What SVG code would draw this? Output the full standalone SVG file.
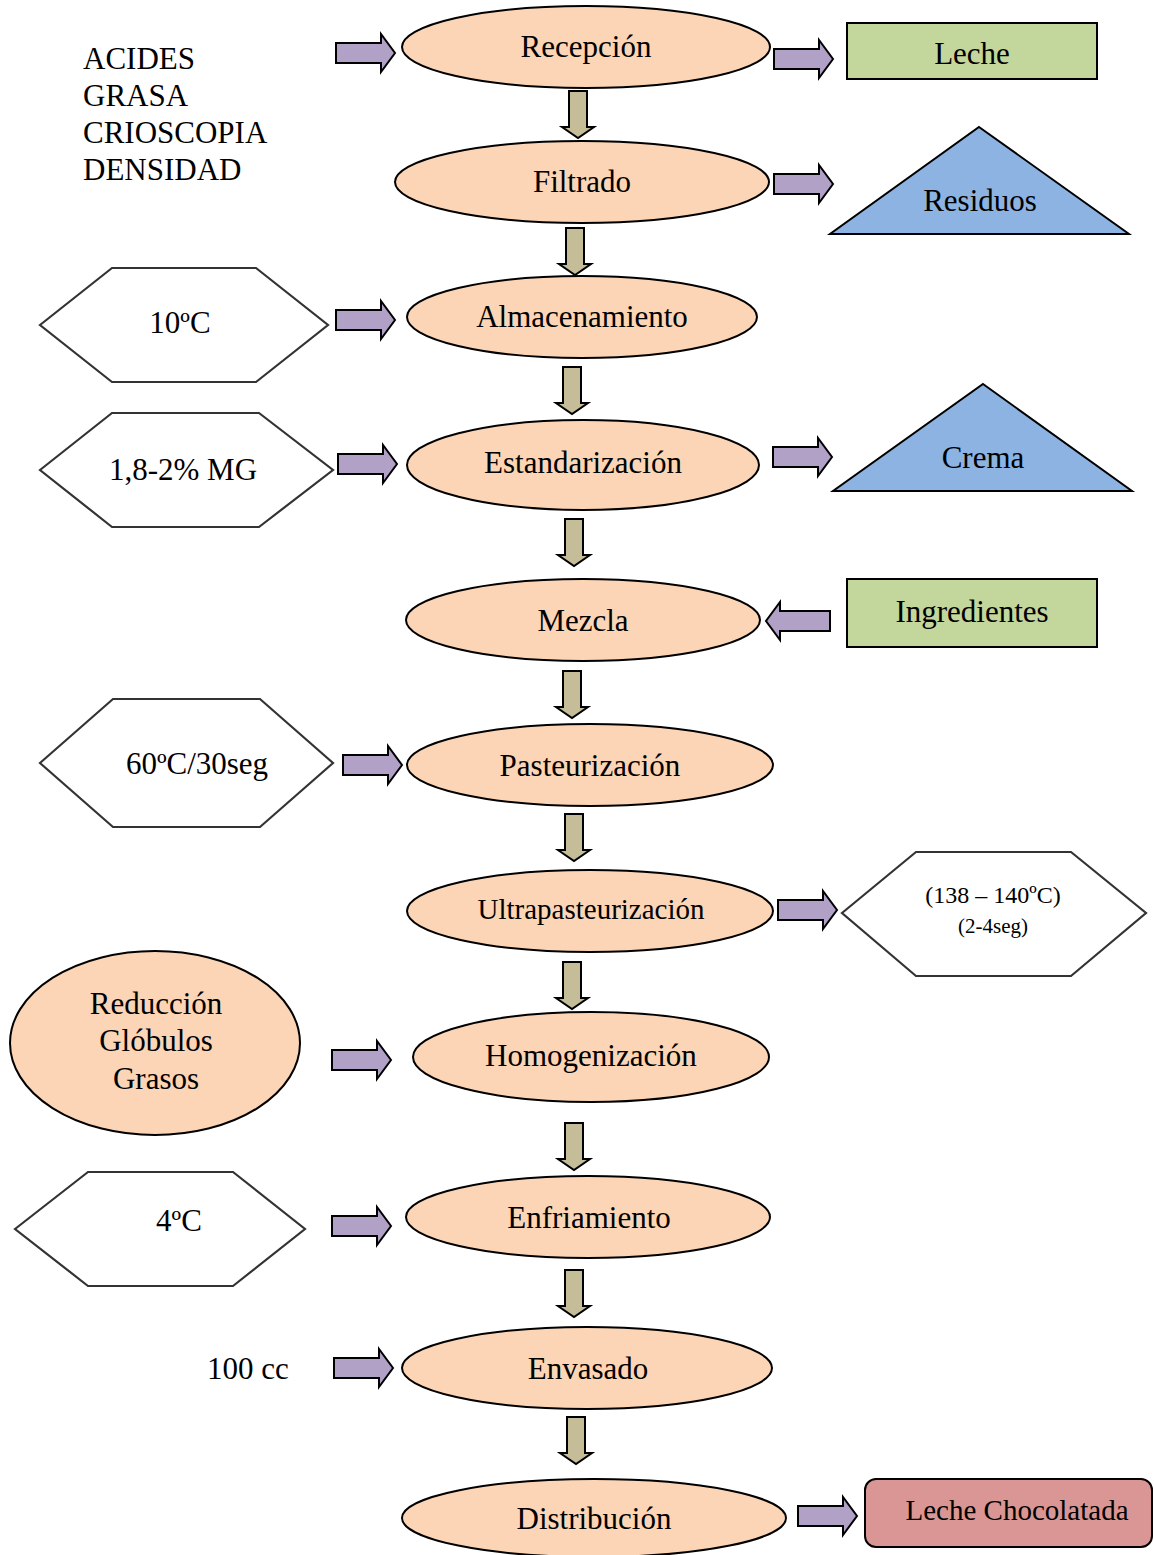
<svg xmlns="http://www.w3.org/2000/svg" xmlns:xlink="http://www.w3.org/1999/xlink" width="1154" height="1555" viewBox="0 0 1154 1555">
<style>
text{font-family:"Liberation Serif","Times New Roman",serif;font-size:31px;fill:#000;text-anchor:middle;dominant-baseline:central}
.proc{fill:#FBD5B5;stroke:#000;stroke-width:2}
.hex{fill:#fff;stroke:#333;stroke-width:2.2}
.green{fill:#C3D69B;stroke:#000;stroke-width:2}
.blue{fill:#8DB3E2;stroke:#000;stroke-width:2}
.red{fill:#D99694;stroke:#000;stroke-width:2}
.pa{fill:#B2A1C7;stroke:#000;stroke-width:2}
.ta{fill:#C4BD97;stroke:#000;stroke-width:2}
</style>
<defs>
<path id="ra" d="M0,-10 H45 V-19 L59,0 L45,19 V10 H0 Z"/>
<path id="la" d="M0,-10 H-50 V-19 L-64,0 L-50,19 V10 H0 Z"/>
<path id="da" d="M-9,0 H9 V36 H16 L0,47 L-16,36 H-9 Z"/>
</defs>
<rect width="1154" height="1555" fill="#fff"/>

<g id="connectors">
<use href="#ra" class="pa" transform="translate(336,53)"/>
<use href="#ra" class="pa" transform="translate(774,59)"/>
<use href="#ra" class="pa" transform="translate(774,184)"/>
<use href="#ra" class="pa" transform="translate(336,320)"/>
<use href="#ra" class="pa" transform="translate(338,464)"/>
<use href="#ra" class="pa" transform="translate(773,457)"/>
<use href="#la" class="pa" transform="translate(830,621)"/>
<use href="#ra" class="pa" transform="translate(343,765)"/>
<use href="#ra" class="pa" transform="translate(778,910)"/>
<use href="#ra" class="pa" transform="translate(332,1060)"/>
<use href="#ra" class="pa" transform="translate(332,1226)"/>
<use href="#ra" class="pa" transform="translate(334,1368)"/>
<use href="#ra" class="pa" transform="translate(798,1516)"/>
<use href="#da" class="ta" transform="translate(578,91)"/>
<use href="#da" class="ta" transform="translate(575,228)"/>
<use href="#da" class="ta" transform="translate(572,367)"/>
<use href="#da" class="ta" transform="translate(574,519)"/>
<use href="#da" class="ta" transform="translate(572,671)"/>
<use href="#da" class="ta" transform="translate(574,814)"/>
<use href="#da" class="ta" transform="translate(572,962)"/>
<use href="#da" class="ta" transform="translate(574,1123)"/>
<use href="#da" class="ta" transform="translate(574,1270)"/>
<use href="#da" class="ta" transform="translate(576,1417)"/>
</g>

<g id="analisis">
<text x="83" y="58" style="text-anchor:start">ACIDES</text>
<text x="83" y="95" style="text-anchor:start">GRASA</text>
<text x="83" y="132" style="text-anchor:start">CRIOSCOPIA</text>
<text x="83" y="169" style="text-anchor:start">DENSIDAD</text>
</g>

<g id="recepcion"><ellipse class="proc" cx="586" cy="47" rx="184" ry="41"/><text x="586" y="46">Recepción</text></g>
<g id="leche"><rect class="green" x="847" y="23" width="250" height="56"/><text x="972" y="53">Leche</text></g>
<g id="filtrado"><ellipse class="proc" cx="582" cy="182" rx="187" ry="41"/><text x="582" y="181">Filtrado</text></g>
<g id="residuos"><polygon class="blue" points="979,127 1129,234 830,234"/><text x="980" y="200">Residuos</text></g>
<g id="t10"><polygon class="hex" points="40,325 112,268 256,268 328,325 256,382 112,382"/><text x="180" y="322">10ºC</text></g>
<g id="almacenamiento"><ellipse class="proc" cx="582" cy="317" rx="175" ry="41"/><text x="582" y="316">Almacenamiento</text></g>
<g id="mg"><polygon class="hex" points="40,470 112,413 259,413 333,470 259,527 112,527"/><text x="183" y="469">1,8-2% MG</text></g>
<g id="estandarizacion"><ellipse class="proc" cx="583" cy="465" rx="176" ry="45"/><text x="583" y="462">Estandarización</text></g>
<g id="crema"><polygon class="blue" points="983,384 1132,491 833,491"/><text x="983" y="457">Crema</text></g>
<g id="mezcla"><ellipse class="proc" cx="583" cy="620" rx="177" ry="41"/><text x="583" y="620">Mezcla</text></g>
<g id="ingredientes"><rect class="green" x="847" y="579" width="250" height="68"/><text x="972" y="611">Ingredientes</text></g>
<g id="t60"><polygon class="hex" points="40,763 113,699 260,699 333,763 260,827 113,827"/><text x="197" y="763">60ºC/30seg</text></g>
<g id="pasteurizacion"><ellipse class="proc" cx="590" cy="765" rx="183" ry="41"/><text x="590" y="765">Pasteurización</text></g>
<g id="ultrapasteurizacion"><ellipse class="proc" cx="590" cy="911" rx="183" ry="41"/><text x="591" y="909" style="font-size:29px">Ultrapasteurización</text></g>
<g id="t138"><polygon class="hex" points="842,913 916,852 1071,852 1146,913 1071,976 916,976"/><text x="993" y="895" style="font-size:24px">(138 – 140ºC)</text><text x="993" y="926" style="font-size:21px">(2-4seg)</text></g>
<g id="reduccion"><ellipse class="proc" cx="155" cy="1043" rx="145" ry="92"/><text x="156" y="1003">Reducción</text><text x="156" y="1040">Glóbulos</text><text x="156" y="1078">Grasos</text></g>
<g id="homogenizacion"><ellipse class="proc" cx="591" cy="1057" rx="178" ry="45"/><text x="591" y="1055">Homogenización</text></g>
<g id="t4"><polygon class="hex" points="15,1229 88,1172 233,1172 305,1229 233,1286 88,1286"/><text x="179" y="1220">4ºC</text></g>
<g id="enfriamiento"><ellipse class="proc" cx="588" cy="1217" rx="182" ry="41"/><text x="589" y="1217">Enfriamiento</text></g>
<g id="cc"><text x="248" y="1368">100 cc</text></g>
<g id="envasado"><ellipse class="proc" cx="587" cy="1368" rx="185" ry="41"/><text x="588" y="1368">Envasado</text></g>
<g id="distribucion"><ellipse class="proc" cx="594" cy="1518" rx="192" ry="39"/><text x="594" y="1518">Distribución</text></g>
<g id="chocolatada"><rect class="red" x="865" y="1479" width="287" height="68" rx="11"/><text x="1017" y="1510" style="font-size:29px">Leche Chocolatada</text></g>
</svg>
